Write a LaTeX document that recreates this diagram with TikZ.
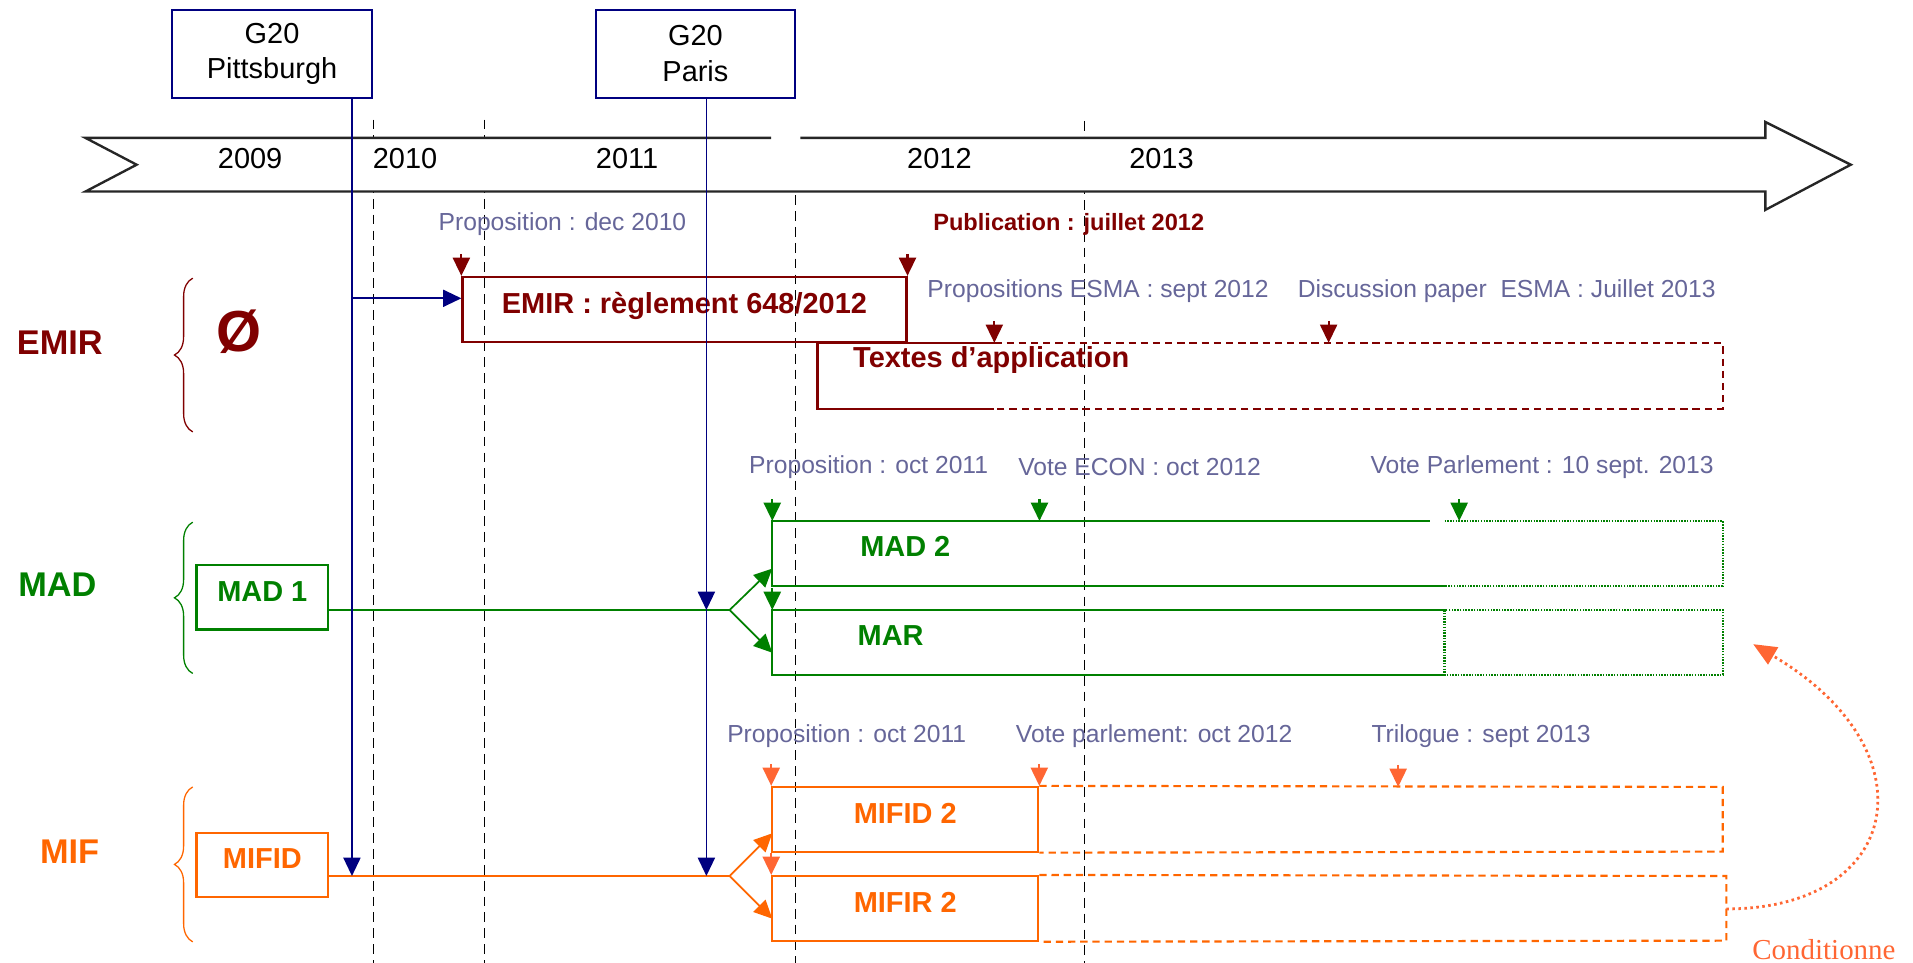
\documentclass[tikz,border=0pt]{standalone}
\usepackage{fontspec}
\setmainfont{Liberation Sans}
\newfontfamily\condfont{Liberation Serif}
\usetikzlibrary{arrows.meta,decorations.pathreplacing}
\definecolor{emirred}{RGB}{128,0,0}
\definecolor{madgreen}{RGB}{0,128,0}
\definecolor{miforange}{RGB}{255,102,0}
\definecolor{mifcoral}{RGB}{255,102,51}
\definecolor{gnavy}{RGB}{0,0,128}
\definecolor{notegray}{RGB}{102,102,153}

\tikzset{
  g20box/.style={draw=gnavy, line width=1pt, minimum width=3.27cm, minimum height=1.44cm, align=center, font=\fontsize{13.5}{16.5}\selectfont},
  regbox/.style={draw, line width=1pt, inner sep=0pt, minimum height=1.06cm, text depth=5.6pt, font=\bfseries\fontsize{13.5}{16}\selectfont},
  regtext/.style={font=\bfseries\fontsize{13.5}{16}\selectfont},
  note/.style={text=notegray, font=\fontsize{11.5}{13}\selectfont},
  group/.style={font=\bfseries\fontsize{16}{19}\selectfont},
  year/.style={font=\fontsize{13.5}{16}\selectfont},
  timeline/.style={line width=1.1pt, draw=black!85, fill=white},
  sep/.style={dash pattern=on 0.16cm off 0.1cm, line width=0.6pt},
  navyarrow/.style={gnavy, line width=0.8pt, -{Triangle[length=0.3cm,width=0.28cm]}},
  milestone/.style={line width=1pt, -{Triangle[length=0.3cm,width=0.28cm]}},
  branch/.style={line width=0.8pt, -{Triangle[length=0.3cm,width=0.28cm]}},
  grpbrace/.style={decorate, decoration={brace, amplitude=0.3cm}, line width=0.6pt},
  laterdash/.style={line width=1pt, dash pattern=on 0.12cm off 0.08cm},
  laterdot/.style={line width=1pt, dash pattern=on 0.7pt off 0.6pt},
  condarrow/.style={mifcoral, line width=1.3pt, dash pattern=on 1.2pt off 1.6pt, -{Triangle[length=0.38cm,width=0.32cm]}}
}

\begin{document}
\begin{tikzpicture}[x=0.02cm,y=-0.02cm]
\useasboundingbox (0,0) rectangle (1568,789);

% year separators
\foreach \x/\y in {306/98,397/98,652/160,889/99}
  \draw[sep] (\x,\y) -- (\x,789);

% time arrow
\filldraw[timeline] (656,113) -- (1447,113) -- (1447,100) -- (1517,135) -- (1447,172) -- (1447,157) -- (70,157) -- (112,135) -- (70,113) -- (632,113);
\foreach \yr/\x in {2009/205,2010/332,2011/514,2012/770,2013/952}
  \node[year] (y\yr) at (\x,130) {\yr};

% G20
\node[g20box] (pitt) at (223,44) {G20\\Pittsburgh};
\node[g20box] (paris) at (570,44) {G20\\Paris};

% groups
\node[group, emirred] (emirlab) at (49,281) {EMIR};
\node[group, madgreen] (madlab) at (47,479) {MAD};
\node[group, miforange] (miflab) at (57,698) {MIF};
\draw[grpbrace, emirred] (158,354) -- (158,228);
\draw[grpbrace, madgreen] (158,552) -- (158,428);
\draw[grpbrace, miforange] (158,772) -- (158,645);
\node[emirred, font=\bfseries\fontsize{27}{30}\selectfont] (empty) at (196,272) {Ø};

% EMIR
\node[regbox, emirred, minimum width=7.28cm] (emir) at (561,253.5) {EMIR : règlement 648/2012};
\draw[emirred, line width=1pt] (815,281) -- (670,281) -- (670,335) -- (815,335);
\draw[emirred, laterdash] (815,281) -- (1412,281) -- (1412,335) -- (815,335);
\node[regtext, emirred, anchor=west, inner sep=0pt] (textes) at (699,295) {Textes d’application};
\coordinate (esma) at (815,281);
\coordinate (dpaper) at (1089,281);
\node[note] (emirprop) at (461,184) {Proposition : dec 2010};
\node[emirred, font=\bfseries\fontsize{11}{13}\selectfont] (emirpub) at (876,184) {Publication : juillet 2012};
\node[note] (esmaprop) at (900,239) {Propositions ESMA : sept 2012};
\node[note] (esmadp) at (1235,239) {Discussion paper\ \ ESMA : Juillet 2013};
\draw[milestone, emirred] ([yshift=0.36cm]emir.north west) -- (emir.north west);
\draw[milestone, emirred] ([yshift=0.36cm]emir.north east) -- (emir.north east);
\foreach \m in {esma,dpaper}
  \draw[milestone, emirred] ([yshift=0.36cm]\m) -- (\m);

% MAD
\node[regbox, madgreen, minimum width=2.16cm] (mad1) at (215,489.5) {MAD 1};
\draw[madgreen, line width=1pt] (1172,427) -- (633,427) -- (633,480) -- (1184,480);
\draw[madgreen, laterdot] (1184,427) -- (1412,427) -- (1412,480) -- (1184,480);
\draw[madgreen, line width=1pt] (1184,500) -- (633,500) -- (633,553) -- (1184,553);
\draw[madgreen, laterdot] (1184,500) rectangle (1412,553);
\node[regtext, madgreen] (mad2) at (742,448) {MAD 2};
\node[regtext, madgreen] (mar) at (730,521) {MAR};
\coordinate (madprop) at (633,427);
\coordinate (econ) at (852,427);
\coordinate (madvote) at (1196,427);
\coordinate (marprop) at (633,500);
\node[note] (madproplab) at (712,383) {Proposition : oct 2011};
\node[note] (econlab) at (934,383) {Vote ECON : oct 2012};
\node[note] (madvotelab) at (1264,383) {Vote Parlement : 10 sept. 2013};
\foreach \m in {madprop,econ,madvote,marprop}
  \draw[milestone, madgreen] ([yshift=0.36cm]\m) -- (\m);
\coordinate (madjoin) at (598,500);
\coordinate (mad2in) at (633,466);
\coordinate (marin) at (633,535);
\draw[madgreen, line width=1pt] (mad1.east |- madjoin) -- (madjoin);
\draw[branch, madgreen] (madjoin) -- (mad2in);
\draw[branch, madgreen] (madjoin) -- (marin);

% MIF
\node[regbox, miforange, minimum width=2.16cm] (mifid) at (215,709) {MIFID};
\node[regbox, miforange, minimum width=4.36cm] (mifid2) at (742,671.5) {MIFID 2};
\node[regbox, miforange, minimum width=4.36cm] (mifir2) at (742,744.5) {MIFIR 2};
\draw[miforange, laterdash] (mifid2.north east) -- (1412,645) -- (1412,698) -- (mifid2.south east);
\draw[miforange, laterdash] (mifir2.north east) -- (1415,718) -- (1415,771) -- (mifir2.south east);
\coordinate (trilogue) at (1146,645);
\node[note] (mifproplab) at (694,603) {Proposition : oct 2011};
\node[note] (mifvotelab) at (946,603) {Vote parlement: oct 2012};
\node[note] (triloguelab) at (1214,603) {Trilogue : sept 2013};
\foreach \m in {mifid2.north west,mifid2.north east,trilogue,mifir2.north west}
  \draw[milestone, mifcoral] ([yshift=0.36cm]\m) -- (\m);
\coordinate (mifjoin) at (598,718);
\coordinate (mifid2in) at (633,683);
\coordinate (mifir2in) at (633,753);
\draw[miforange, line width=1pt] (mifid.east |- mifjoin) -- (mifjoin);
\draw[branch, miforange] (mifjoin) -- (mifid2in);
\draw[branch, miforange] (mifjoin) -- (mifir2in);

% G20 decisions
\coordinate (pitttop) at ([xshift=1.31cm]pitt.south);
\coordinate (paristop) at ([xshift=0.18cm]paris.south);
\coordinate (emirin) at ([yshift=0.18cm]emir.west);
\draw[navyarrow] (pitttop) -- (pitttop |- mifjoin);
\draw[navyarrow] (pitttop |- emirin) -- (emirin);
\draw[navyarrow] (paristop) -- (paristop |- madjoin);
\draw[navyarrow] (paristop |- madjoin) -- (paristop |- mifjoin);

% Conditionne
\coordinate (mifir2out) at (1415,745);
\coordinate (marout) at (1437,528);
\draw[condarrow] (mifir2out) .. controls (1560,745) and (1585,615) .. (marout);
\node[mifcoral, font=\condfont\fontsize{13.5}{16}\selectfont] (cond) at (1495,778) {Conditionne};
\end{tikzpicture}
\end{document}
